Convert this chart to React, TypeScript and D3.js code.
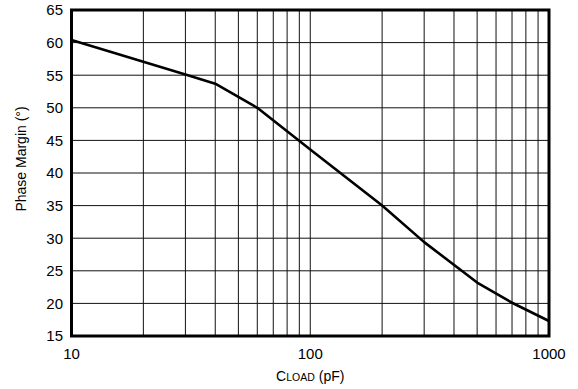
import React from "react";
import * as d3 from "d3";

const cload: number[] = [10, 30, 40, 60, 100, 200, 300, 500, 700, 1000];
const phaseMargin: number[] = [60.4, 55.1, 53.7, 50.0, 43.6, 35.0, 29.4, 23.2, 20.1, 17.3];
const yTicks: number[] = [15, 20, 25, 30, 35, 40, 45, 50, 55, 60, 65];
const xTickLabels: number[] = [10, 100, 1000];
const xGrid: number[] = [20, 30, 40, 50, 60, 70, 80, 90, 100, 200, 300, 400, 500, 600, 700, 800, 900];

const W = 578;
const H = 389;
const left = 71.5;
const right = 549;
const top = 10;
const bottom = 336;
const font = "'Liberation Sans', Arial, Helvetica, sans-serif";

export default function App() {
  const x = d3.scaleLog().domain([10, 1000]).range([left, right]);
  const y = d3.scaleLinear().domain([15, 65]).range([bottom, top]);
  const line = d3
    .line<number>()
    .x((_, i) => x(cload[i]))
    .y((d) => y(d));

  return (
    <svg
      width={W}
      height={H}
      style={{ position: "absolute", left: 0, top: 0, background: "#fff" }}
      fontFamily={font}
    >
      {yTicks.slice(1, -1).map((t) => (
        <line key={"h" + t} x1={left} x2={right} y1={y(t)} y2={y(t)} stroke="#111" strokeWidth={1} />
      ))}
      {xGrid.map((t) => (
        <line key={"v" + t} x1={x(t)} x2={x(t)} y1={top} y2={bottom} stroke="#111" strokeWidth={1} />
      ))}
      <path d={line(phaseMargin) || ""} fill="none" stroke="#000" strokeWidth={2.6} strokeLinejoin="round" />
      <rect x={left} y={top} width={right - left} height={bottom - top} fill="none" stroke="#000" strokeWidth={3} />
      {yTicks.map((t) => (
        <text key={"yl" + t} x={63} y={y(t)} dy="0.36em" textAnchor="end" fontSize={15} fill="#000">
          {t}
        </text>
      ))}
      {xTickLabels.map((t) => (
        <text key={"xl" + t} x={x(t)} y={359} textAnchor="middle" fontSize={15} fill="#000">
          {t}
        </text>
      ))}
      <text x={(left + right) / 2} y={381} textAnchor="middle" fontSize={14} fill="#000">
        C<tspan fontSize={10.5}>LOAD</tspan> (pF)
      </text>
      <text
        transform={`translate(26, ${(top + bottom) / 2 - 14}) rotate(-90)`}
        textAnchor="middle"
        fontSize={14}
        fill="#000"
      >
        Phase Margin (°)
      </text>
    </svg>
  );
}
